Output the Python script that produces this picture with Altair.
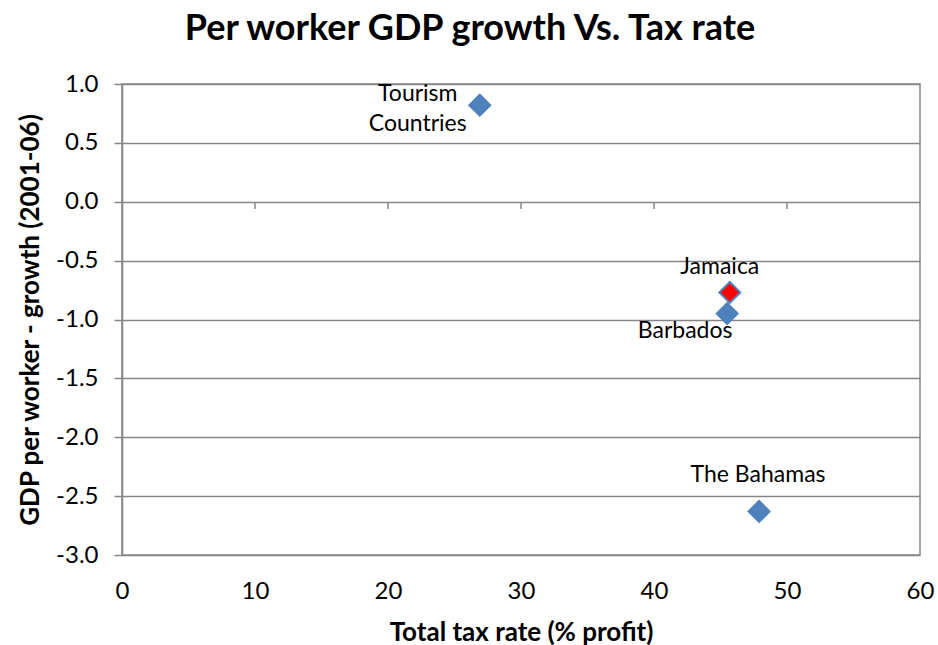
import altair as alt
import pandas as pd

countries = ["Tourism\nCountries", "Jamaica", "Barbados", "The Bahamas"]
tax_rate = [26.9, 45.7, 45.5, 47.9]
gdp_growth = [0.82, -0.77, -0.95, -2.63]
kinds = ["other", "jamaica", "other", "other"]
label_dx = [-62, -10, -42, -1]
label_dy = [-11, -25, 17, -36]
x_ticks = [0, 10, 20, 30, 40, 50, 60]
y_ticks = [1.0, 0.5, 0.0, -0.5, -1.0, -1.5, -2.0, -2.5, -3.0]

df = pd.DataFrame({"country": countries, "tax": tax_rate, "gdp": gdp_growth, "kind": kinds})
ticks_df = pd.DataFrame({"t": x_ticks[1:-1]})

FONT = "Lato"
GRID = "#868686"

xs = alt.Scale(domain=[0, 60], nice=False, zero=False)
ys = alt.Scale(domain=[-3, 1], nice=False, zero=False)

base = alt.Chart(df)

points = base.mark_point(shape="diamond", filled=True, size=440, strokeWidth=2, opacity=1).encode(
    x=alt.X("tax:Q", scale=xs, title="Total tax rate (% profit)",
            axis=alt.Axis(values=x_ticks, format="d", ticks=False, domain=False, grid=False,
                          labelFlush=False, labelPadding=24, titlePadding=16)),
    y=alt.Y("gdp:Q", scale=ys, title="GDP per worker - growth (2001-06)",
            axis=alt.Axis(values=y_ticks, format=".1f",
                          labelExpr="datum.value < 0 ? '-' + format(-datum.value, '.1f') : format(datum.value, '.1f')",
                          tickSize=8, tickColor=GRID, tickWidth=1.5,
                          domainColor=GRID, domainWidth=1.5, grid=True, gridColor=GRID, gridWidth=1.5,
                          labelPadding=16, titlePadding=12)),
    fill=alt.Fill("kind:N", scale=alt.Scale(domain=["other", "jamaica"], range=["#4F81BD", "#FF0000"]), legend=None),
    stroke=alt.value("#4F81BD"),
)

labels = []
for i in range(len(countries)):
    labels.append(
        alt.Chart(df.iloc[[i]]).mark_text(
            font=FONT, fontSize=23, color="black", align="center", baseline="middle",
            dx=label_dx[i], dy=label_dy[i], lineBreak="\n", lineHeight=30,
        ).encode(x=alt.X("tax:Q", scale=xs), y=alt.Y("gdp:Q", scale=ys), text="country:N")
    )

zero_ticks = alt.Chart(ticks_df).mark_rule(color=GRID, strokeWidth=1.5).encode(
    x=alt.X("t:Q", scale=xs),
    y=alt.value(118),
    y2=alt.value(125),
)

chart = alt.layer(points, zero_ticks, *labels).properties(
    width=798, height=471,
    background="white",
    title=alt.TitleParams("Per worker GDP growth Vs. Tax rate", font=FONT, fontSize=36, fontWeight="bold",
                          color="black", anchor="middle", dx=-51, offset=24),
    autosize=alt.AutoSizeParams(type="none"),
    padding={"left": 122, "top": 84, "right": 18, "bottom": 90},
).configure_view(stroke=GRID, strokeWidth=1.5).configure_axis(
    labelFont=FONT, labelFontSize=24, labelColor="black",
    titleFont=FONT, titleFontSize=26, titleFontWeight="bold", titleColor="black",
)

chart.save("out.html", embed_options={"renderer": "svg", "actions": False})
